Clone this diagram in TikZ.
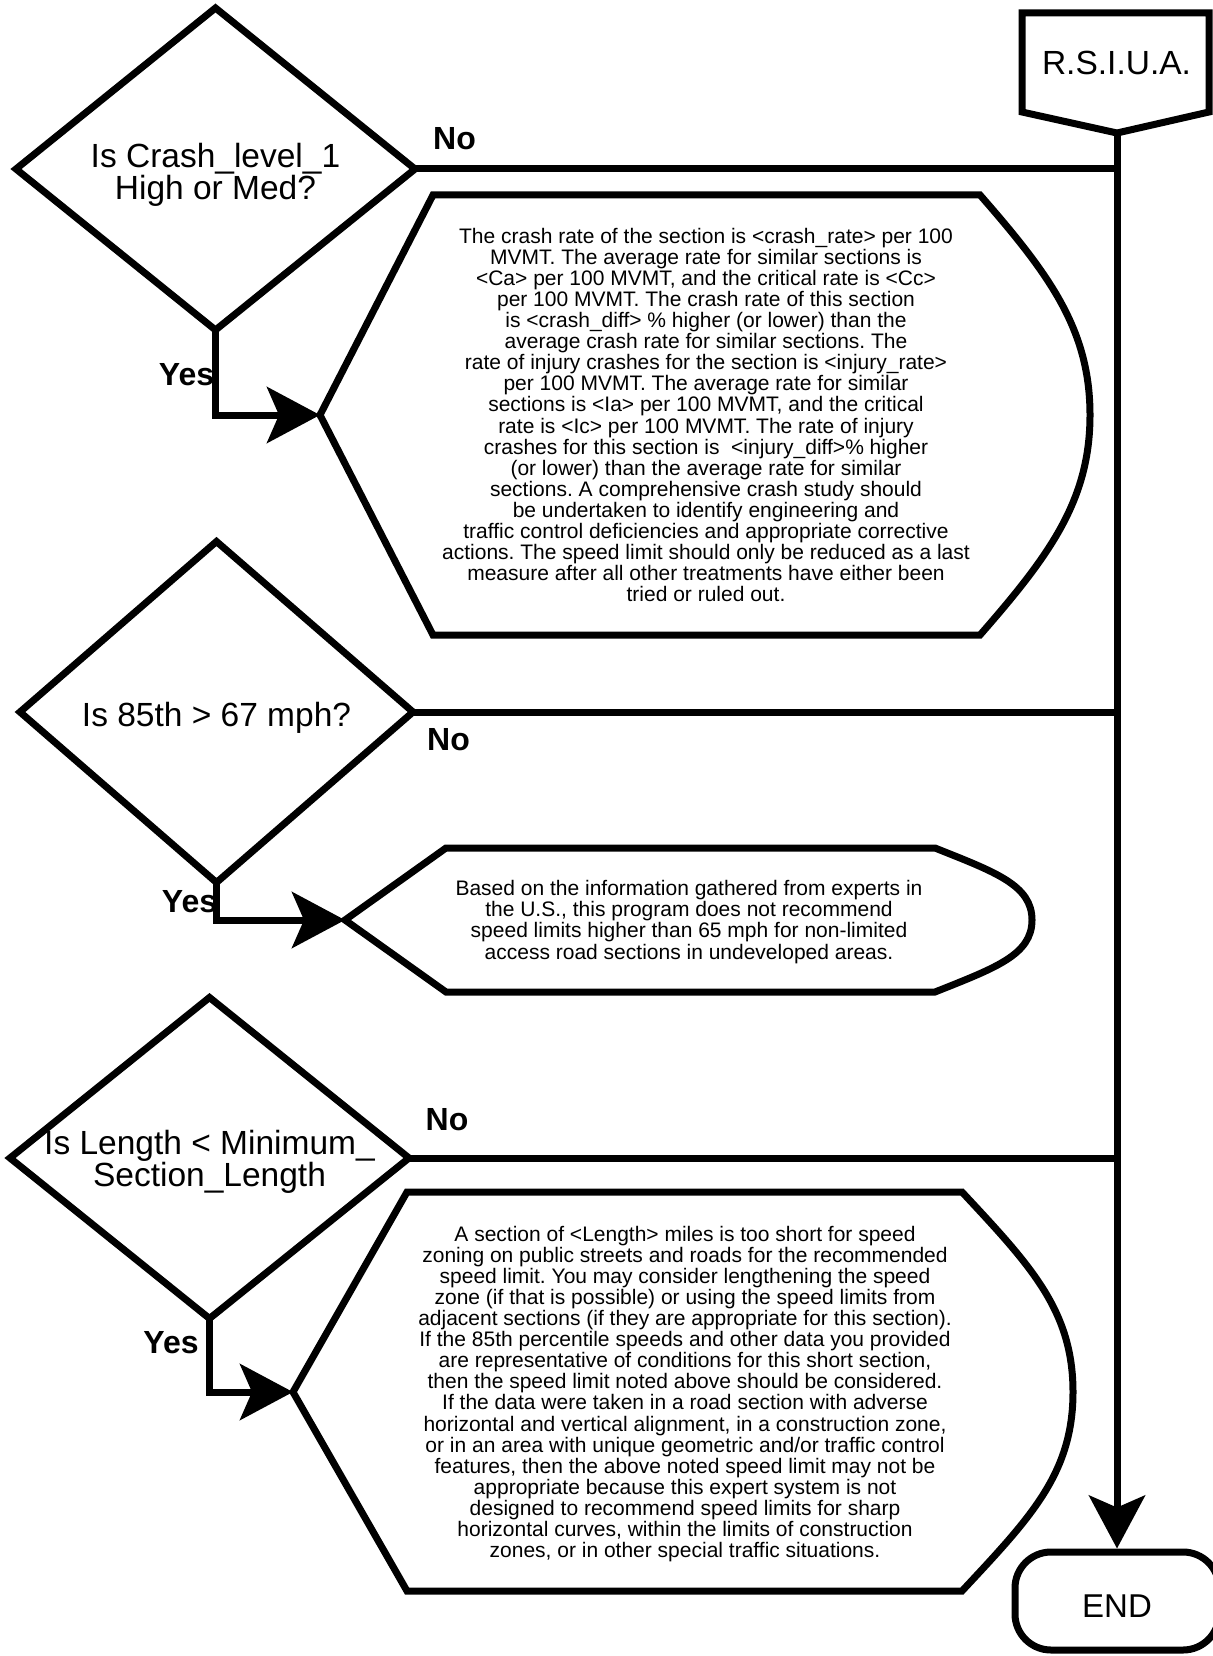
\documentclass[tikz,border=0pt]{standalone}
\usepackage{fontspec}
\setmainfont{Liberation Sans}
\usetikzlibrary{shapes.geometric, arrows.meta}
\begin{document}
\frenchspacing
\begin{tikzpicture}[x=1pt, y=-1pt,
  ln/.style={line width=7pt},
  decision/.style={draw, ln, diamond, inner sep=0pt, outer sep=0pt},
  qtext/.style={font={\fontsize{33.5pt}{32pt}\selectfont}, align=center, inner sep=0pt},
  msgtext/.style={font={\fontsize{21pt}{21.1pt}\selectfont}, align=center, inner sep=0pt},
  lbl/.style={font={\fontsize{32pt}{36pt}\selectfont\bfseries}, inner sep=0pt, anchor=base},
  flow/.style={ln, -{Stealth[length=53pt, width=56pt, inset=12pt]}},
  link/.style={ln},
  endbox/.style={draw, ln, rounded corners=36pt, minimum width=204pt, minimum height=98pt,
    font={\fontsize{33pt}{36pt}\selectfont}, text height=32pt, text depth=0pt, inner sep=0pt},
]
\useasboundingbox (0,0) rectangle (1212,1656);
\fill[white] (0,0) rectangle (1212,1656);

% start block and main trunk
\draw[ln] (1022,13) -- (1209,13) -- (1209,112) -- (1117,133) -- (1022,112) -- cycle;
\node[qtext] (rsiua) at (1116.5,63) {R.S.I.U.A.};
\coordinate (rsout) at (1117,133);
\node[endbox] (end) at (1117,1601) {END};
\draw[flow] (rsout) -- (end.north);

% decisions
\node[decision, minimum width=399pt, minimum height=322pt] (d1) at (215.5,169) {};
\node[qtext] (q1) at (215.5,175.3) {Is Crash\_level\_1\\High or Med?};
\node[decision, minimum width=393pt, minimum height=341pt] (d2) at (216.5,712) {};
\node[qtext] (q2) at (216.5,718.3) {Is 85th > 67 mph?};
\node[decision, minimum width=399pt, minimum height=321pt] (d3) at (209.5,1158) {};
\node[qtext] (q3) at (209.5,1162.3) {Is Length < Minimum\_\\Section\_Length};

% "No" branches join the trunk
\coordinate (j1) at (d1.east -| rsout);
\coordinate (j2) at (d2.east -| rsout);
\coordinate (j3) at (d3.east -| rsout);
\draw[link] (d1.east) -- (j1);
\draw[link] (d2.east) -- (j2);
\draw[link] (d3.east) -- (j3);
\node[lbl] (no1) at (454.5,150) {No};
\node[lbl] (no2) at (448.5,750) {No};
\node[lbl] (no3) at (447,1130) {No};

% message displays
\draw[ln] (320,415) coordinate (s1in) -- (433,195) -- (980,195)
  .. controls (1050,275) and (1090,330) .. (1090,415)
  .. controls (1090,500) and (1050,555) .. (980,635) -- (433,635) -- cycle;
\node[msgtext] (m1) at (706,415) {The crash rate of the section is <crash\_rate> per 100\\
MVMT. The average rate for similar sections is\\
<Ca> per 100 MVMT, and the critical rate is <Cc>\\
per 100 MVMT. The crash rate of this section\\
is <crash\_diff> \% higher (or lower) than the\\
average crash rate for similar sections. The\\
rate of injury crashes for the section is <injury\_rate>\\
per 100 MVMT. The average rate for similar\\
sections is <Ia> per 100 MVMT, and the critical\\
rate is <Ic> per 100 MVMT. The rate of injury\\
crashes for this section is\ \ <injury\_diff>\% higher\\
(or lower) than the average rate for similar\\
sections. A comprehensive crash study should\\
be undertaken to identify engineering and\\
traffic control deficiencies and appropriate corrective\\
actions. The speed limit should only be reduced as a last\\
measure after all other treatments have either been\\
tried or ruled out.};

\draw[ln] (345,920) coordinate (s2in) -- (446,848) -- (935,848)
  .. controls (995,872) and (1032,885) .. (1032,920)
  .. controls (1032,955) and (995,968) .. (935,992) -- (446,992) -- cycle;
\node[msgtext] (m2) at (689,922) {Based on the information gathered from experts in\\
the U.S., this program does not recommend\\
speed limits higher than 65 mph for non-limited\\
access road sections in undeveloped areas.};

\draw[ln] (293,1392) coordinate (s3in) -- (407,1192) -- (962,1192)
  .. controls (1030,1265) and (1073,1310) .. (1073,1392)
  .. controls (1073,1474) and (1030,1518) .. (962,1591) -- (407,1591) -- cycle;
\node[msgtext] (m3) at (685,1394) {A section of <Length> miles is too short for speed\\
zoning on public streets and roads for the recommended\\
speed limit. You may consider lengthening the speed\\
zone (if that is possible) or using the speed limits from\\
adjacent sections (if they are appropriate for this section).\\
If the 85th percentile speeds and other data you provided\\
are representative of conditions for this short section,\\
then the speed limit noted above should be considered.\\
If the data were taken in a road section with adverse\\
horizontal and vertical alignment, in a construction zone,\\
or in an area with unique geometric and/or traffic control\\
features, then the above noted speed limit may not be\\
appropriate because this expert system is not\\
designed to recommend speed limits for sharp\\
horizontal curves, within the limits of construction\\
zones, or in other special traffic situations.};

% "Yes" branches
\draw[flow] (d1.south) |- (s1in);
\draw[flow] (d2.south) |- (s2in);
\draw[flow] (d3.south) |- (s3in);
\node[lbl] (yes1) at (186.5,385) {Yes};
\node[lbl] (yes2) at (189.5,912) {Yes};
\node[lbl] (yes3) at (171,1353) {Yes};
\end{tikzpicture}
\end{document}
